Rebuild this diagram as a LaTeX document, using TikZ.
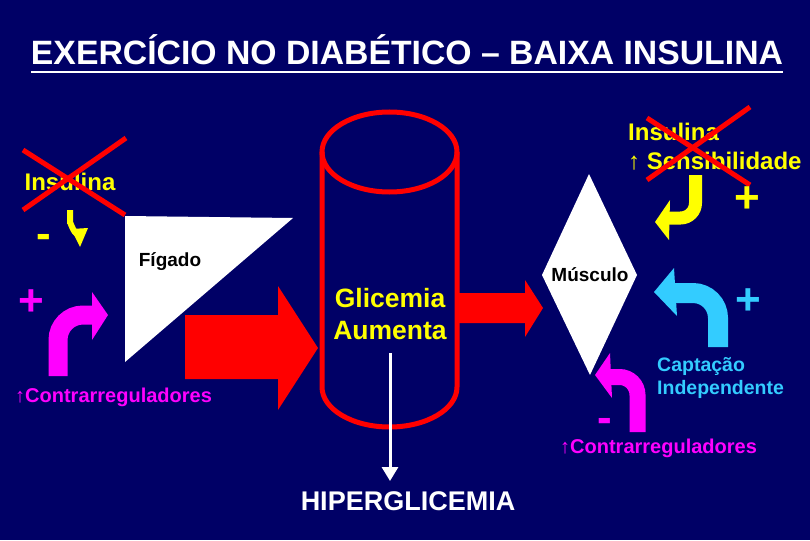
\documentclass[tikz,border=0pt]{standalone}
\usepackage{fontspec}
\usetikzlibrary{arrows.meta}
\setmainfont{Liberation Sans}
\definecolor{bgnavy}{RGB}{0,0,102}
\definecolor{ylw}{RGB}{255,255,0}
\definecolor{mag}{RGB}{255,0,255}
\definecolor{cyn}{RGB}{51,204,255}
\definecolor{rd}{RGB}{255,0,0}
\tikzset{
  lbl/.style={inner sep=0pt, font=\bfseries\fontsize{24}{28}\selectfont, text=ylw},
  organ/.style={inner sep=0pt, font=\bfseries\fontsize{19}{22}\selectfont, text=black},
  sign/.style={inner sep=0pt, anchor=base, font=\bfseries\fontsize{44}{48}\selectfont},
  small/.style={inner sep=0pt, anchor=base west, font=\bfseries\fontsize{19.5}{22}\selectfont},
  contr/.style={inner sep=0pt, anchor=base west, font=\bfseries\fontsize{20}{22}\selectfont},
  cross/.style={draw=rd, line width=5pt},
}
\begin{document}
\begin{tikzpicture}[x=1pt,y=-1pt]
\fill[bgnavy] (0,0) rectangle (810,540);
\useasboundingbox (0,0) rectangle (810,540);

% title
\node[inner sep=0pt, anchor=base, text=white, font=\bfseries\fontsize{30.5}{34}\selectfont] (title) at (407,65) {\resizebox{752pt}{!}{EXERCÍCIO NO DIABÉTICO – BAIXA INSULINA}};
\draw[white, line width=2pt] (31,72) -- (783,72);

% liver triangle
\fill[white] (125,216) -- (293,218) -- (125,362) -- cycle;
\node[organ] (figado) at (170,262) {Fígado};

% big red arrow liver -> cylinder
\fill[rd] (185,315) -- (278,315) -- (278,286) -- (318,348) -- (278,410) -- (278,379) -- (185,379) -- cycle;

% red arrow cylinder -> muscle
\fill[rd] (457,293) -- (525,293) -- (525,280) -- (543,308) -- (525,337) -- (525,323) -- (457,323) -- cycle;

% cylinder
\draw[rd, line width=5pt] (389.5,152) ellipse [x radius=67.5, y radius=40];
\draw[rd, line width=5pt] (322,152) -- (322,387) arc[start angle=180, end angle=0, x radius=67.5, y radius=40] -- (457,152);
\node[inner sep=0pt, anchor=base, text=ylw, font=\bfseries\fontsize{26.5}{30}\selectfont] (glic) at (390,307) {Glicemia};
\node[inner sep=0pt, anchor=base, text=ylw, font=\bfseries\fontsize{26.5}{30}\selectfont] (aum) at (390,339) {Aumenta};
\node[inner sep=0pt, anchor=base, text=white, font=\bfseries\fontsize{27}{30}\selectfont] (hiper) at (408,510) {HIPERGLICEMIA};
\coordinate (arrstart) at (390,353);
\coordinate (arrend) at (390,481);
\draw[white, line width=3pt, -{Triangle[width=16pt,length=14pt]}] (arrstart) -- (arrend);

% muscle diamond
\fill[white] (589,174) -- (637,275) -- (590,375) -- (542,275) -- cycle;
\node[organ] (musculo) at (590,275) {Músculo};

% left side
\node[lbl] (insL) at (70,182) {Insulina};
\draw[cross] (23,150) -- (125,215);
\draw[cross] (126,138) -- (23,210);
\node[sign, text=ylw] (minL) at (44,248) {-};
\draw[ylw, line width=6pt] (70,210) -- (70,224) to[out=90,in=180] (78,234);
\fill[ylw] (71,229) -- (88,228) -- (80,247) -- cycle;
\node[sign, text=mag] (plusL) at (31,315) {+};
\draw[mag, line width=19pt] (58,376) -- (58,340) arc[start angle=180, end angle=270, radius=25] -- (93,315);
\fill[mag] (92,292) -- (108,315) -- (92,340) -- cycle;
\node[contr, text=mag] (contrL) at (15,402) {↑Contrarreguladores};

% right side
\node[lbl, anchor=base west] (insR) at (628,141) {Insulina};
\node[lbl, anchor=base west] (sensR) at (628,170) {↑ Sensibilidade};
\draw[cross] (647,118) -- (750,185);
\draw[cross] (750,107) -- (647,180);
\draw[ylw, line width=13pt] (695.5,175) -- (695.5,203) arc[start angle=0, end angle=90, radius=15] -- (669,218);
\fill[ylw] (670,200) -- (655,222) -- (669,240) -- cycle;
\node[sign, text=ylw] (plusR1) at (747,212) {+};

\draw[cyn, line width=20pt] (718,347) -- (718,318) arc[start angle=0, end angle=-90, radius=25] -- (675,293);
\fill[cyn] (674,268) -- (654,292) -- (677,316) -- cycle;
\node[sign, text=cyn] (plusR2) at (748,314) {+};
\node[small, text=cyn] (capt1) at (657,371) {Captação};
\node[small, text=cyn] (capt2) at (657,394) {Independente};

\draw[mag, line width=16pt] (637.5,432) -- (637.5,395) arc[start angle=0, end angle=-90, radius=18] -- (609,377);
\fill[mag] (610,353) -- (595,375) -- (612,398) -- cycle;
\node[sign, text=mag] (minR) at (605,432) {-};
\node[contr, text=mag] (contrR) at (560,453) {↑Contrarreguladores};
\end{tikzpicture}
\end{document}
